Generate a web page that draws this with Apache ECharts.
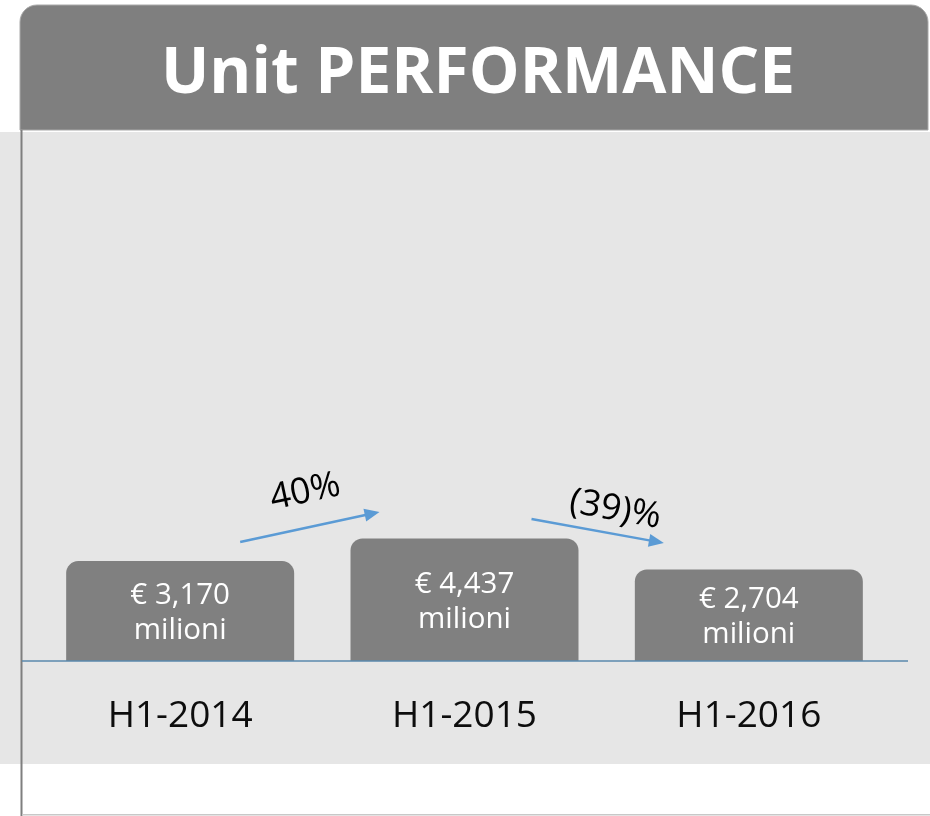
<!DOCTYPE html>
<html>
<head>
<meta charset="utf-8">
<title>Unit PERFORMANCE</title>
<script src="https://cdn.jsdelivr.net/npm/echarts@6/dist/echarts.min.js"></script>
<style>
  html, body { margin: 0; padding: 0; background: #ffffff; }
  #chart { width: 930px; height: 816px; }
</style>
</head>
<body>
<div id="chart"></div>
<script>
const chartTitle = 'Unit PERFORMANCE'
const categories = ['H1-2014', 'H1-2015', 'H1-2016']
const values = [3170, 4437, 2704]
const unitLabel = 'milioni'

// the slide's value axis does not start at zero
const axisMin = -2400
const axisMax = 26600

const FONT = '"Open Sans", sans-serif'
const GREY = '#808080'
const ARROW_BLUE = '#5b9bd5'

function formatValue(v) {
  return '€ ' + v.toLocaleString('en-US') + '\n' + unitLabel
}

function formatGrowth(a, b) {
  const pct = Math.round((b - a) / a * 100)
  return pct < 0 ? '(' + Math.abs(pct) + ')%' : pct + '%'
}

const chart = echarts.init(document.getElementById('chart'))

const option = {
  animation: false,
  backgroundColor: '#ffffff',
  title: {
    text: chartTitle,
    left: 473,
    top: 38,
    textAlign: 'center',
    textStyle: {
      color: '#ffffff',
      fontSize: 64,
      fontWeight: 'bold',
      fontFamily: FONT,
    },
  },
  grid: {
    left: 38,
    right: 39,
    top: 141,
    bottom: 155,
  },
  xAxis: {
    type: 'category',
    data: categories,
    axisLine: { show: false },
    axisTick: { show: false },
    axisLabel: {
      color: '#0d0d0d',
      fontSize: 37,
      fontFamily: FONT,
      margin: 37,
    },
  },
  yAxis: {
    type: 'value',
    min: axisMin,
    max: axisMax,
    startValue: axisMin,
    show: false,
  },
  series: [
    {
      type: 'bar',
      data: values,
      barWidth: 228,
      itemStyle: {
        color: GREY,
        borderRadius: [12, 12, 0, 0],
      },
      label: {
        show: true,
        position: 'inside',
        offset: [0, 2],
        color: '#ffffff',
        fontSize: 29.5,
        lineHeight: 35,
        fontFamily: FONT,
        formatter: (p) => formatValue(p.value),
      },
    },
  ],
}

chart.setOption(option)

function buildGraphics() {
  const baseY = chart.convertToPixel({ yAxisIndex: 0 }, axisMin)
  const centers = categories.map((c, i) => chart.convertToPixel({ xAxisIndex: 0 }, i))

  const items = [
    // slide panel
    { type: 'rect', z: 0, shape: { x: 0, y: 132, width: 930, height: 632 }, style: { fill: '#e6e6e6' } },
    { type: 'rect', z: 0, shape: { x: 20, y: 5, width: 908, height: 125, r: [17, 17, 0, 0] }, style: { fill: '#7f7f7f', stroke: '#a9a9a9', lineWidth: 1 } },
    { type: 'rect', z: 0, shape: { x: 20.5, y: 130, width: 2, height: 686 }, style: { fill: '#7f7f7f' } },
    { type: 'rect', z: 0, shape: { x: 22, y: 814, width: 908, height: 1.5 }, style: { fill: '#c8c8c8' } },
    // baseline
    { type: 'line', z: 10, shape: { x1: 22, y1: baseY, x2: 908, y2: baseY }, style: { stroke: '#5a88ad', lineWidth: 1.5 } },
  ]

  for (let i = 0; i < values.length - 1; i++) {
    const up = values[i + 1] >= values[i]
    const x1 = centers[i] + (up ? 60 : 67)
    const x2 = centers[i + 1] - 85
    const y1 = up ? baseY - 119 : baseY - 142
    const y2 = up ? baseY - 149 : baseY - 118
    const len = Math.hypot(x2 - x1, y2 - y1)
    const ux = (x2 - x1) / len
    const uy = (y2 - y1) / len
    const nx = -uy
    const ny = ux

    items.push({
      type: 'line',
      z: 10,
      shape: { x1: x1, y1: y1, x2: x2 - ux * 12, y2: y2 - uy * 12 },
      style: { stroke: ARROW_BLUE, lineWidth: 2.5 },
    })
    items.push({
      type: 'polygon',
      z: 10,
      shape: {
        points: [
          [x2, y2],
          [x2 - ux * 15 + nx * 6.5, y2 - uy * 15 + ny * 6.5],
          [x2 - ux * 15 - nx * 6.5, y2 - uy * 15 - ny * 6.5],
        ],
      },
      style: { fill: ARROW_BLUE },
    })

    // growth label sits above the arrow, following its slope
    const t = up ? 0.52 : 0.6
    const dist = up ? 35 : 24
    items.push({
      type: 'text',
      z: 10,
      x: x1 + (x2 - x1) * t + uy * dist,
      y: y1 + (y2 - y1) * t - ux * dist,
      rotation: -Math.atan2(y2 - y1, x2 - x1),
      style: {
        text: formatGrowth(values[i], values[i + 1]),
        fill: '#000000',
        fontSize: 36,
        fontFamily: FONT,
        align: 'center',
        verticalAlign: 'middle',
      },
    })
  }
  return items
}

chart.setOption({ graphic: buildGraphics() })
</script>
</body>
</html>
